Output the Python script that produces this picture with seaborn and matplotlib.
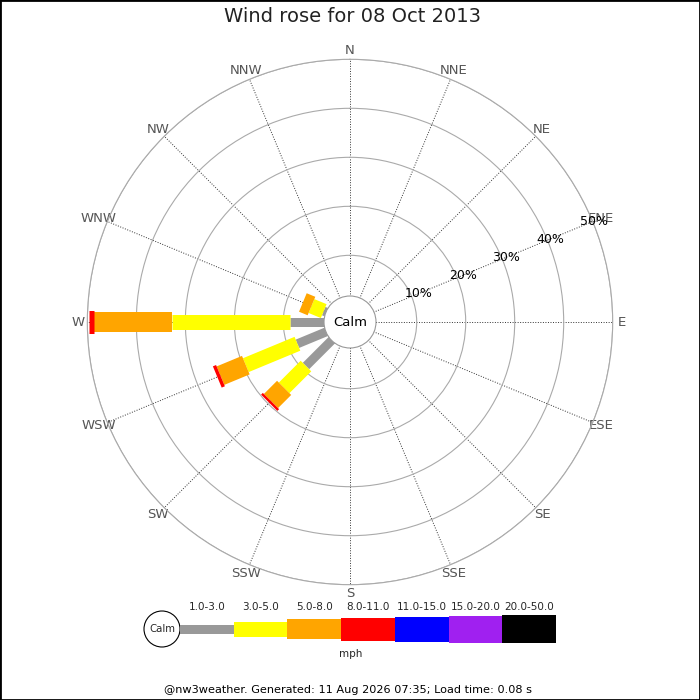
import numpy as np
import pandas as pd
import matplotlib
matplotlib.use("Agg")
import matplotlib.pyplot as plt
import seaborn as sns
from matplotlib.patches import Circle, Rectangle

# ---------------- data ----------------
directions = ['N', 'NNE', 'NE', 'ENE', 'E', 'ESE', 'SE', 'SSE',
              'S', 'SSW', 'SW', 'WSW', 'W', 'WNW', 'NW', 'NNW']
speed_bands = ['1.0-3.0', '3.0-5.0', '5.0-8.0', '8.0-11.0',
               '11.0-15.0', '15.0-20.0', '20.0-50.0']
band_colors = ['#999999', '#ffff00', '#ffa500', '#ff0000',
               '#0000ff', '#a020f0', '#000000']
# percentage of time per speed band, for the directions that have wind
pct_W   = [8.6, 24.2, 15.8, 1.1, 0, 0, 0]
pct_WSW = [8.0, 11.4, 5.6, 0.7, 0, 0, 0]
pct_SW  = [9.1, 6.3, 3.8, 0.5, 0, 0, 0]
pct_WNW = [2.2, 2.7, 1.9, 0, 0, 0, 0]
ring_values = [10, 20, 30, 40, 50]
title = 'Wind rose for 08 Oct 2013'
footer = '@nw3weather. Generated: 11 Aug 2026 07:35; Load time: 0.08 s'
unit = 'mph'

rows = []
for d, vals in [('W', pct_W), ('WSW', pct_WSW), ('SW', pct_SW), ('WNW', pct_WNW)]:
    for b, v in zip(speed_bands, vals):
        rows.append(dict(direction=d, band=b, pct=v))
df = pd.DataFrame(rows)

# ---------------- style ----------------
sns.set_theme(style='white')
plt.rcParams['font.family'] = ['DejaVu Sans']

W_PX, H_PX = 700, 700
band_px = [9, 15, 20, 23, 25, 27, 28]        # bar thickness per band (px)
cx, cy = 350, 322                            # rose centre (px from top-left)
R_PX = 262.7                                 # outer ring radius
r0_px = 17.7                                 # radius of 0 %
calm_px = 26

fig = plt.figure(figsize=(7, 7), dpi=100)
fig.patch.set_facecolor('white')

ax = fig.add_axes([(cx - R_PX) / W_PX, (H_PX - cy - R_PX) / H_PX,
                   2 * R_PX / W_PX, 2 * R_PX / H_PX], projection='polar')
ax.set_facecolor('white')
ax.set_theta_zero_location('N')
ax.set_theta_direction(-1)
ax.set_ylim(0, max(ring_values))
px_per_unit = (R_PX - r0_px) / max(ring_values)
ax.set_rorigin(-r0_px / px_per_unit)

theta_of = {d: np.deg2rad(i * 22.5) for i, d in enumerate(directions)}
ax.set_xticks([theta_of[d] for d in directions])
ax.set_xticklabels(directions, color='#555555', fontsize=9.5)
ax.tick_params(axis='x', pad=-6.5)
ax.set_yticks(ring_values)
ax.set_yticklabels([])
ax.grid(axis='y', color='#aaaaaa', lw=0.8, ls='-')
ax.grid(axis='x', color='#333333', lw=0.7, ls=(0, (1, 1.6)))
ax.spines['polar'].set_color('#aaaaaa')
ax.spines['polar'].set_linewidth(0.8)

# radial percentage labels along ENE
for v in ring_values:
    ax.text(theta_of['ENE'], v + 2.0 - 0.035 * v, f'{v}%', ha='center',
            va='center', fontsize=9, color='black', zorder=8)

# bars: stacked radial segments with constant pixel thickness
for d, g in df.groupby('direction', sort=False):
    th = theta_of[d]
    start = 0.0
    for i, (b, v) in enumerate(zip(g['band'], g['pct'])):
        if v <= 0:
            continue
        ax.plot([th, th], [start, start + v], color=band_colors[i],
                lw=band_px[i] * 0.72, solid_capstyle='butt', zorder=3)
        start += v

# calm circle
calm = Circle((0.5, 0.5), calm_px / (2 * R_PX), transform=ax.transAxes,
              facecolor='white', edgecolor='#999999', lw=0.8, zorder=6,
              clip_on=False)
ax.add_patch(calm)
ax.text(0.5, 0.5, 'Calm', transform=ax.transAxes, ha='center', va='center',
        fontsize=9.5, color='black', zorder=7)

# ---------------- legend (pixel coords overlay) ----------------
lax = fig.add_axes([0, 0, 1, 1])
lax.set_xlim(0, W_PX)
lax.set_ylim(H_PX, 0)
lax.set_axis_off()
lax.patch.set_alpha(0)

ly = 629
lcx, lr = 162, 18
lax.add_patch(Circle((lcx, ly), lr, facecolor='white', edgecolor='black', lw=0.8))
lax.text(lcx, ly, 'Calm', ha='center', va='center', fontsize=7.3)
x0, x1 = lcx + lr, 556
seg_w = (x1 - x0) / len(speed_bands)
xs = [x0 + i * seg_w for i in range(len(speed_bands))]
lax.bar(xs, band_px, width=seg_w, bottom=[ly - h / 2 for h in band_px],
        color=band_colors, align='edge', linewidth=0)
for x, lab in zip(xs, speed_bands):
    lax.text(x + seg_w / 2, 607, lab, ha='center', va='center', fontsize=7.5)
lax.text(351, 654, unit, ha='center', va='center', fontsize=7.5)

fig.text(0.503, 1 - 17 / H_PX, title, ha='center', va='center', fontsize=14,
         color='#222222')
fig.text(348 / W_PX, 1 - 690 / H_PX, footer, ha='center', va='center',
         fontsize=8.1, color='black')
fig.add_artist(Rectangle((0, 0), 1, 1, transform=fig.transFigure, fill=False,
                         edgecolor='black', lw=2))

fig.savefig('out.png', dpi=100, facecolor='white')
